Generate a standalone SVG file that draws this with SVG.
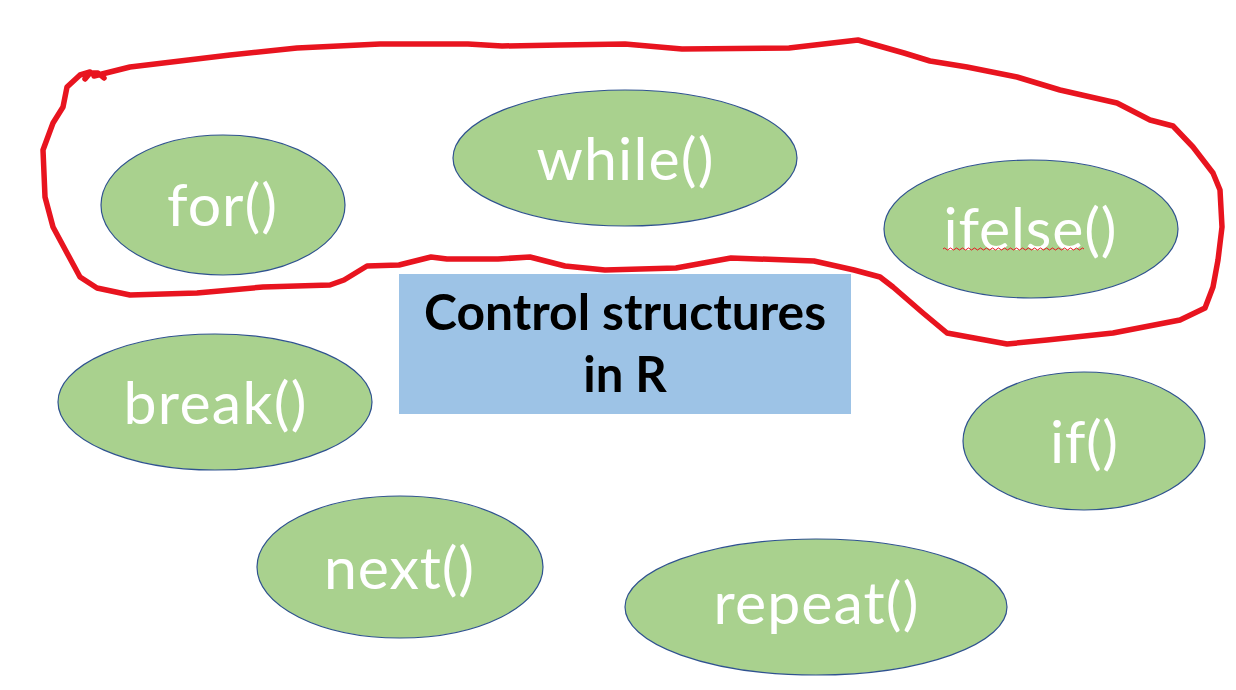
<svg xmlns="http://www.w3.org/2000/svg" width="1236" height="690" viewBox="0 0 1236 690">
<style>
.node ellipse{fill:#A9D18E;stroke:#2F528F;stroke-width:1.2}
.lbl{font-family:Lato,"Open Sans","Liberation Sans",sans-serif;font-size:59px;fill:#FFFFFF;text-anchor:middle}
.title{font-family:Lato,"Open Sans","Liberation Sans",sans-serif;font-weight:bold;font-size:49px;fill:#000000;text-anchor:middle}
.lasso{fill:none;stroke:#E8141F;stroke-width:5.5;stroke-linejoin:round;stroke-linecap:round}
</style>
<rect width="1236" height="690" fill="#FFFFFF"/>
<g id="title-box">
<rect x="399" y="274" width="452" height="140" fill="#9DC3E6"/>
<text class="title" x="625" y="330" textLength="402" lengthAdjust="spacingAndGlyphs">Control structures</text>
<text class="title" x="625" y="392">in R</text>
</g>
<g id="node-for" class="node">
<ellipse cx="223" cy="205" rx="122" ry="70"/>
<text class="lbl" x="222" y="226" textLength="110">for()</text>
</g>
<g id="node-while" class="node">
<ellipse cx="625" cy="158" rx="172" ry="68"/>
<text class="lbl" x="625" y="180" textLength="177">while()</text>
</g>
<g id="node-ifelse" class="node">
<ellipse cx="1031" cy="229" rx="147" ry="69"/>
<text class="lbl" x="1030" y="250" textLength="173">ifelse()</text>
<path d="M943,249 q1.5,-2 3,0 t3,0 t3,0 t3,0 t3,0 t3,0 t3,0 t3,0 t3,0 t3,0 t3,0 t3,0 t3,0 t3,0 t3,0 t3,0 t3,0 t3,0 t3,0 t3,0 t3,0 t3,0 t3,0 t3,0 t3,0 t3,0 t3,0 t3,0 t3,0 t3,0 t3,0 t3,0 t3,0 t3,0 t3,0 t3,0 t3,0 t3,0 t3,0 t3,0 t3,0 t3,0 t3,0 t3,0 t3,0 t3,0 t3,0" fill="none" stroke="#E8141F" stroke-width="1"/>
</g>
<g id="node-break" class="node">
<ellipse cx="215" cy="402" rx="157" ry="68"/>
<text class="lbl" x="215" y="424" textLength="183">break()</text>
</g>
<g id="node-if" class="node">
<ellipse cx="1084" cy="441" rx="121" ry="69"/>
<text class="lbl" x="1084" y="463" textLength="68">if()</text>
</g>
<g id="node-next" class="node">
<ellipse cx="400" cy="567" rx="143" ry="71"/>
<text class="lbl" x="399" y="589" textLength="150">next()</text>
</g>
<g id="node-repeat" class="node">
<ellipse cx="816" cy="607" rx="191" ry="68"/>
<text class="lbl" x="816" y="624" textLength="205">repeat()</text>
</g>
<g id="connectors">
<path class="lasso" d="M85,79 L90,73 L98,73 L104,78 M94,76 L130,67 L230,55 L297,48 L380,44 L468,44 L502,46 L560,45 L625,44 L682,49 L789,48 L858,40 L904,53 L930,61 L967,67 L1017,77 L1060,90 L1117,103 L1150,120 L1173,126 L1193,147 L1213,173 L1220,190 L1222,227 L1218,260 L1213,287 L1205,308 L1180,320 L1113,333 L1047,340 L1007,344 L947,333 L923,313 L893,287 L880,277 L854,270 L814,261 L731,258 L676,268 L605,270 L565,266 L530,257 L498,259 L447,259 L431,257 L399,265 L367,266 L344,280 L330,285 L263,287 L197,293 L130,295 L97,288 L80,277 L67,253 L53,227 L45,197 L43,150 L53,123 L63,107 L67,87 L80,75 L90,72"/>
</g>
</svg>
